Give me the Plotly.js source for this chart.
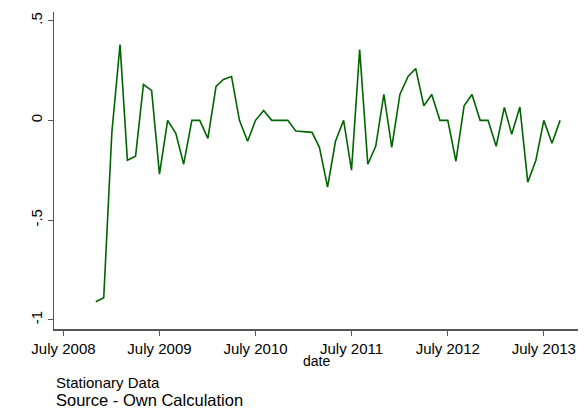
<!DOCTYPE html>
<html>
<head>
<meta charset="utf-8">
<script src="https://cdn.plot.ly/plotly-3.0.1.min.js"></script>
<style>
  html, body { margin: 0; padding: 0; background: #fff; }
  #chart { width: 586px; height: 410px; }
</style>
</head>
<body>
<div id="chart"></div>
<script>
const months = [
    '2008-11-01', '2008-12-01',
    '2009-01-01', '2009-02-01', '2009-03-01', '2009-04-01', '2009-05-01', '2009-06-01',
    '2009-07-01', '2009-08-01', '2009-09-01', '2009-10-01', '2009-11-01', '2009-12-01',
    '2010-01-01', '2010-02-01', '2010-03-01', '2010-04-01', '2010-05-01', '2010-06-01',
    '2010-07-01', '2010-08-01', '2010-09-01', '2010-10-01', '2010-11-01', '2010-12-01',
    '2011-01-01', '2011-02-01', '2011-03-01', '2011-04-01', '2011-05-01', '2011-06-01',
    '2011-07-01', '2011-08-01', '2011-09-01', '2011-10-01', '2011-11-01', '2011-12-01',
    '2012-01-01', '2012-02-01', '2012-03-01', '2012-04-01', '2012-05-01', '2012-06-01',
    '2012-07-01', '2012-08-01', '2012-09-01', '2012-10-01', '2012-11-01', '2012-12-01',
    '2013-01-01', '2013-02-01', '2013-03-01', '2013-04-01', '2013-05-01', '2013-06-01',
    '2013-07-01', '2013-08-01', '2013-09-01'
];

const values = [
    -0.91, -0.89,
    -0.06, 0.38, -0.20, -0.18, 0.18, 0.15,
    -0.27, 0.00, -0.065, -0.22, 0.00, 0.00,
    -0.09, 0.17, 0.205, 0.22, 0.00, -0.105,
    0.00, 0.05, 0.00, 0.00, 0.00, -0.053,
    -0.055, -0.06, -0.135, -0.335, -0.105, 0.00,
    -0.25, 0.355, -0.22, -0.13, 0.13, -0.135,
    0.13, 0.22, 0.26, 0.073, 0.13, 0.00,
    0.00, -0.205, 0.073, 0.13, 0.00, 0.00,
    -0.13, 0.065, -0.07, 0.067, -0.31, -0.20,
    0.00, -0.115, 0.00
];

const xTickVals = ['2008-07-01', '2009-07-01', '2010-07-01', '2011-07-01', '2012-07-01', '2013-07-01'];
const xTickText = ['July 2008', 'July 2009', 'July 2010', 'July 2011', 'July 2012', 'July 2013'];
const yTickVals = [-1, -0.5, 0, 0.5];
const yTickText = ['-1', '-.5', '0', '.5'];

const axisColor = '#555555';
const font = 'Arial, "Liberation Sans", sans-serif';

const trace = {
    x: months,
    y: values,
    type: 'scatter',
    mode: 'lines',
    line: { color: '#006400', width: 1.6 },
    hoverinfo: 'none'
};

const layout = {
    width: 586,
    height: 410,
    margin: { l: 54, r: 8, t: 12, b: 81 },
    paper_bgcolor: '#ffffff',
    plot_bgcolor: '#ffffff',
    showlegend: false,
    font: { family: font, size: 15, color: '#000' },
    xaxis: {
        type: 'date',
        range: ['2008-05-26', '2013-11-08'],
        tickvals: xTickVals,
        ticktext: xTickText,
        tickangle: 0,
        ticks: 'outside',
        ticklen: 5,
        tickwidth: 1,
        tickcolor: axisColor,
        showline: true,
        linecolor: axisColor,
        linewidth: 1.5,
        showgrid: false,
        zeroline: false,
        tickfont: { family: font, size: 15, color: '#000' }
    },
    yaxis: {
        range: [-1.0466, 0.5436],
        tickvals: yTickVals,
        ticktext: yTickText,
        tickangle: -90,
        ticks: 'outside',
        ticklen: 5,
        tickwidth: 1,
        tickcolor: axisColor,
        showline: true,
        linecolor: axisColor,
        linewidth: 1.5,
        showgrid: false,
        zeroline: false,
        tickfont: { family: font, size: 15, color: '#000' }
    },
    annotations: [
        {
            // x axis title, sits tight under the tick labels
            text: 'date',
            xref: 'paper', yref: 'paper',
            x: 0.5, y: -0.102,
            xanchor: 'center', yanchor: 'middle',
            showarrow: false,
            font: { family: font, size: 14, color: '#000' }
        },
        {
            text: 'Stationary Data',
            xref: 'paper', yref: 'paper',
            x: 0.0, y: -0.170,
            xanchor: 'left', yanchor: 'middle',
            showarrow: false,
            font: { family: font, size: 15, color: '#000' }
        },
        {
            text: 'Source - Own Calculation',
            xref: 'paper', yref: 'paper',
            x: 0.0, y: -0.224,
            xanchor: 'left', yanchor: 'middle',
            showarrow: false,
            font: { family: font, size: 16.5, color: '#000' }
        }
    ]
};

Plotly.newPlot('chart', [trace], layout, { displayModeBar: false, staticPlot: true });
</script>
</body>
</html>
